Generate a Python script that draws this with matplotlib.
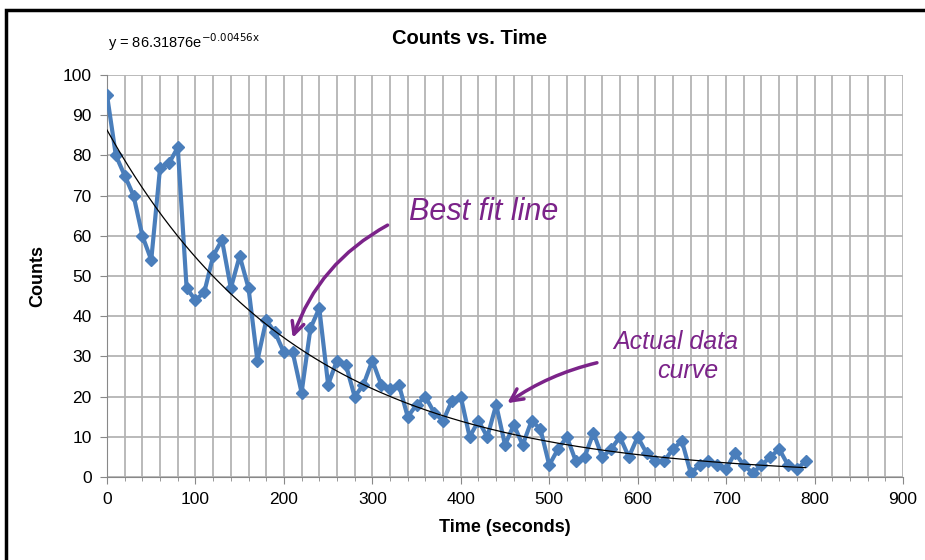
import numpy as np
import matplotlib
matplotlib.use("Agg")
import matplotlib.pyplot as plt
from matplotlib.patches import Rectangle

plt.rcParams['font.family'] = ['Liberation Sans', 'DejaVu Sans']

# data
time_s = list(range(0, 800, 10))
counts = [95, 80, 75, 70, 60, 54, 77, 78, 82, 47,
          44, 46, 55, 59, 47, 55, 47, 29, 39, 36,
          31, 31, 21, 37, 42, 23, 29, 28, 20, 23,
          29, 23, 22, 23, 15, 18, 20, 16, 14, 19,
          20, 10, 14, 10, 18, 8, 13, 8, 14, 12,
          3, 7, 10, 4, 5, 11, 5, 7, 10, 5,
          10, 6, 4, 4, 7, 9, 1, 3, 4, 3,
          2, 6, 3, 1, 3, 5, 7, 3, 2, 4]
fit_a = 86.31876
fit_k = 0.00456

fig = plt.figure(figsize=(9.25, 5.6), dpi=100)
ax = fig.add_axes([0.1157, 0.148, 0.8605, 0.718])

ax.set_xlim(0, 900)
ax.set_ylim(0, 100)
ax.set_xticks(np.arange(0, 901, 100))
ax.set_xticks(np.arange(0, 901, 20), minor=True)
ax.set_yticks(np.arange(0, 101, 10))
ax.grid(True, which='both', axis='x', color='#b4b4b4', lw=1.3)
ax.grid(True, which='major', axis='y', color='#b4b4b4', lw=1.3)
ax.set_axisbelow(True)
for s in ['top', 'right']:
    ax.spines[s].set_visible(False)
for s in ['left', 'bottom']:
    ax.spines[s].set_color('#888888')
ax.tick_params(axis='both', which='major', labelsize=12.5, length=5, color='#888888', pad=6)
ax.tick_params(axis='x', which='minor', length=3, color='#888888')

ax.plot(time_s, counts, color='#4a7ebb', lw=3, marker='D', ms=6.5,
        mfc='#4a7ebb', mec='#4a7ebb', zorder=3)

xf = np.linspace(0, max(time_s), 300)
ax.plot(xf, fit_a * np.exp(-fit_k * xf), color='black', lw=0.9, zorder=4)

ax.set_xlabel('Time (seconds)', fontsize=13, fontweight='bold', labelpad=8)
ax.set_ylabel('Counts', fontsize=13, fontweight='bold', labelpad=12)

fig.text(0.508, 0.932, 'Counts vs. Time', fontsize=14.5, fontweight='bold', ha='center', va='center')
fig.text(0.117, 0.925, r'y = 86.31876e$^{\mathrm{-0.00456x}}$', fontsize=10.5, ha='left', va='center')

# handwritten notes
purple = '#7b2389'
ax.text(342, 66, 'Best fit line', color=purple, fontsize=22, style='italic', va='center')
ax.annotate('', xy=(209, 34), xytext=(320, 63),
            arrowprops=dict(arrowstyle='->', color=purple, lw=2.5,
                            connectionstyle='arc3,rad=0.2', mutation_scale=22))
ax.text(572, 33.5, 'Actual data', color=purple, fontsize=18, style='italic', va='center')
ax.text(622, 26.5, 'curve', color=purple, fontsize=18, style='italic', va='center')
ax.annotate('', xy=(450, 18), xytext=(557, 28.6),
            arrowprops=dict(arrowstyle='->', color=purple, lw=2.5,
                            connectionstyle='arc3,rad=0.1', mutation_scale=22))

fig.patches.append(Rectangle((0.006, -0.05), 1.1, 1.032, transform=fig.transFigure,
                             fill=False, ec='black', lw=2.5))

fig.savefig('out.png', dpi=100)
